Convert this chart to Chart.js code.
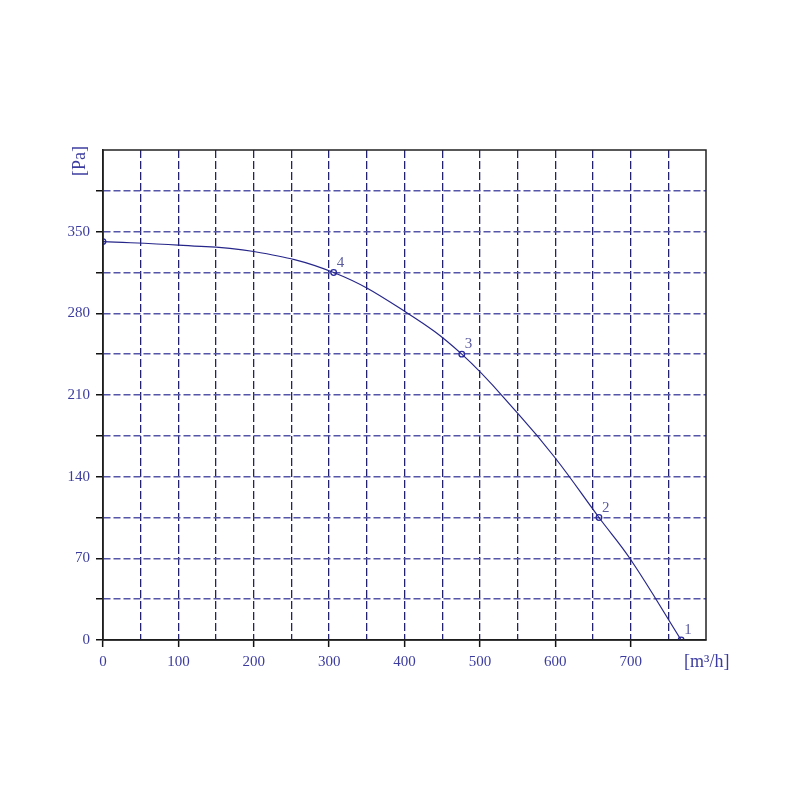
<!DOCTYPE html>
<html>
<head>
<meta charset="utf-8">
<script src="https://cdn.jsdelivr.net/npm/chart.js@4.4.1/dist/chart.umd.min.js"></script>
<style>
  html, body { margin: 0; padding: 0; background: #fff; }
  #box { width: 800px; height: 800px; }
</style>
</head>
<body>
<div id="box"><canvas id="grafico"></canvas></div>
<script>
// curva portata / pressione
let portata   = [0, 100, 200, 306, 402, 476, 550, 600, 658, 700, 767];
let pressione = [341.5, 338.5, 333, 315, 281, 245, 194.5, 156, 105, 69, 0];

// punti numerati
let puntiX = [0, 767, 658, 476, 306];
let puntiY = [341.5, 0, 105, 245, 315];
let puntiNome = ['', '1', '2', '3', '4'];

let etichettaY = '[Pa]';
let etichettaX = '[m\u00b3/h]';

let coloreTesto = '#3c3ca0';
let font = "'Liberation Serif', 'DejaVu Serif', serif";

let curva = [];
for (i = 0; i < portata.length; i++) curva.push({x: portata[i], y: pressione[i]});
let punti = [];
for (i = 0; i < puntiX.length; i++) punti.push({x: puntiX[i], y: puntiY[i]});

const scritte = {
  id: 'scritte',
  afterDatasetsDraw(chart) {
    const ctx = chart.ctx;
    const a = chart.chartArea;
    const meta = chart.getDatasetMeta(1);
    ctx.save();
    // cornice
    ctx.strokeStyle = '#222';
    ctx.lineWidth = 1.5;
    ctx.strokeRect(a.left, a.top, a.right - a.left, a.bottom - a.top);
    // numeri dei punti
    ctx.font = "15px " + font;
    ctx.fillStyle = '#5a5aa0';
    ctx.textAlign = 'left';
    ctx.textBaseline = 'alphabetic';
    meta.data.forEach((p, i) => {
      if (puntiNome[i]) ctx.fillText(puntiNome[i], p.x + 3, p.y - 6);
    });
    // titoli assi
    ctx.fillStyle = coloreTesto;
    ctx.font = "18px " + font;
    ctx.textAlign = 'left';
    ctx.textBaseline = 'middle';
    ctx.fillText(etichettaX, a.right - 22, 662);
    ctx.translate(80, 161);
    ctx.rotate(-Math.PI / 2);
    ctx.textAlign = 'center';
    ctx.fillText(etichettaY, 0, 0);
    ctx.restore();
  }
};

const grafico = new Chart(document.getElementById('grafico'), {
  type: 'line',
  data: {
    datasets: [{
      data: curva,
      borderColor: '#26268a',
      borderWidth: 1.2,
      pointRadius: 0,
      tension: 0.4,
      fill: false
    }, {
      data: punti,
      showLine: false,
      pointRadius: 2.8,
      pointBorderWidth: 1.3,
      pointBorderColor: '#2a2aa0',
      pointBackgroundColor: 'rgba(255,255,255,0)'
    }]
  },
  options: {
    responsive: true,
    maintainAspectRatio: false,
    animation: false,
    layout: { padding: { left: 0, top: 150, right: 94, bottom: 0 } },
    plugins: { legend: { display: false }, tooltip: { enabled: false } },
    scales: {
      x: {
        type: 'linear',
        min: 0,
        max: 800,
        afterFit: s => { s.height = 160; },
        ticks: {
          stepSize: 50,
          autoSkip: false,
          maxRotation: 0,
          padding: 6,
          color: coloreTesto,
          font: { family: font, size: 15 },
          callback: v => (v % 100 === 0 && v < 800) ? v : ''
        },
        grid: {
          color: c => (c.tick && (c.tick.value === 0 || c.tick.value === 800)) ? 'rgba(0,0,0,0)' : '#22226e',
          lineWidth: 1.3,
          tickLength: 7,
          tickColor: c => (c.tick && c.tick.value % 100 === 0 && c.tick.value < 800) ? '#111' : 'rgba(0,0,0,0)',
          tickWidth: 1.5,
          tickBorderDash: []
        },
        border: { color: '#111', width: 1.5, dash: [8, 3] }
      },
      y: {
        min: 0,
        max: 420,
        afterFit: s => { s.width = 103; },
        ticks: {
          stepSize: 35,
          autoSkip: false,
          padding: 6,
          color: coloreTesto,
          font: { family: font, size: 15 },
          callback: v => (v % 70 === 0 && v < 420) ? v : ''
        },
        grid: {
          color: c => (c.tick && (c.tick.value === 0 || c.tick.value === 420)) ? 'rgba(0,0,0,0)' : '#5555aa',
          lineWidth: 1.5,
          tickLength: 7,
          tickColor: c => (c.tick && c.tick.value < 420) ? '#111' : 'rgba(0,0,0,0)',
          tickWidth: 1.5,
          tickBorderDash: []
        },
        border: { color: '#111', width: 1.5, dash: [7, 3] }
      }
    }
  },
  plugins: [scritte]
});
</script>
</body>
</html>
